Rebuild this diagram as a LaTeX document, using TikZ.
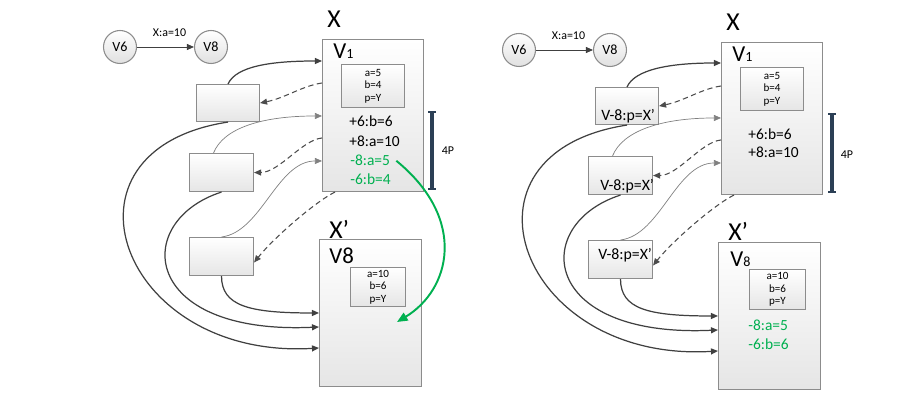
\documentclass[tikz,border=0pt]{standalone}
\usepackage{fontspec}
\setmainfont{Carlito}
\usetikzlibrary{arrows.meta, positioning}

\definecolor{linegray}{HTML}{404040}
\definecolor{opgreen}{HTML}{00B050}
\definecolor{barblue}{HTML}{2B3F55}

\tikzset{
  box/.style={draw=black!45, line width=0.6pt, top color=white, bottom color=black!10,
    inner sep=0pt, anchor=north west},
  state/.style={circle, draw=black!45, line width=0.6pt, top color=white, bottom color=black!12,
    minimum size=0.66cm, inner sep=0pt, font=\fontsize{8}{9}\selectfont},
  vals/.style={box, align=center, font=\fontsize{6.3}{7.2}\selectfont},
  flow/.style={-{Triangle[length=4pt,width=3.4pt]}, draw=linegray, line width=0.7pt},
  thinflow/.style={flow, draw=black!50, line width=0.4pt},
  backflow/.style={flow, draw=black!70, line width=0.6pt, dash pattern=on 3pt off 2pt},
  greenflow/.style={-{Triangle[length=6pt,width=5pt]}, draw=opgreen, line width=1.1pt},
  big/.style={font=\fontsize{14.7}{15}\selectfont, inner sep=0pt, anchor=base west},
  vname/.style={font=\fontsize{13}{13}\selectfont, inner sep=0pt, anchor=base west},
  op/.style={font=\fontsize{8.8}{10}\selectfont, inner sep=0pt, anchor=base west},
  msg/.style={font=\fontsize{9}{10}\selectfont, inner sep=0pt, anchor=base west},
  tag/.style={font=\fontsize{6.8}{8}\selectfont},
  pbar/.style={draw=barblue, line width=2.1pt, {Bar[width=4.2pt,line width=1pt]}-{Bar[width=4.2pt,line width=1pt]}},
}

\begin{document}
\begin{tikzpicture}[x=0.02cm, y=-0.02cm]
\useasboundingbox (0,0) rectangle (900,402);

% left
\begin{scope}
\node[state] (lv6) at (120,47) {V6};
\node[state] (lv8) at (211,47) {V8};
\draw[flow, line width=0.5pt] (lv6) -- node[tag, above=2.5pt, pos=0.57] {X:a=10} (lv8);

\node[big] (lxname) at (327,28) {X};
\node[box, minimum width=2.02cm, minimum height=3.04cm] (lx) at (322,39) {};
\node[vname] (lv1) at (333,59) {V{\fontsize{8}{8}\selectfont 1}};
\node[vals, minimum width=1.26cm, minimum height=0.86cm] (lxv) at (341,64) {a=5\\b=4\\p=Y};
\node[op] (lop1) at (349,127) {+6:b=6};
\node[op] (lop2) at (349,147) {+8:a=10};
\node[op, text=opgreen] (lop3) at (350,166) {-8:a=5};
\node[op, text=opgreen] (lop4) at (350,185) {-6:b=4};
\draw[pbar] (432,111) -- (432,190);
\node[tag] (lp) at (448,151) {4P};

\node[big] (lxpname) at (329,238) {X’};
\node[box, minimum width=2.04cm, minimum height=2.94cm] (lxp) at (319,239) {};
\node[vname] (lv8b) at (329,263) {V8};
\node[vals, minimum width=1.1cm, minimum height=0.78cm] (lxpv) at (350,267) {a=10\\b=6\\p=Y};

\node[box, minimum width=1.26cm, minimum height=0.74cm] (lb1) at (196,84) {};
\node[box, minimum width=1.28cm, minimum height=0.76cm] (lb2) at (189,153) {};
\node[box, minimum width=1.28cm, minimum height=0.76cm] (lb3) at (189,237) {};

\draw[flow] (lb1.north) .. controls +(8,-18) and +(-50,0) .. ([yshift=-0.44cm]lx.north west);
\draw[backflow] ([yshift=-0.88cm]lx.north west) .. controls +(-20,3) and +(25,-5) .. (lb1.east);
\draw[thinflow] ([xshift=-1.6mm]lb2.north) .. controls +(10,-25) and +(-60,0) .. ([yshift=-1.54cm]lx.north west);
\draw[backflow] ([yshift=-1.98cm]lx.north west) .. controls +(-20,2) and +(25,0) .. (lb2.east);
\draw[thinflow] (lb3.north) .. controls +(40,-5) and +(-45,0) .. ([yshift=-2.44cm]lx.north west);
\draw[backflow] ([xshift=0.26cm]lx.south west) .. controls +(-20,10) and +(20,-25) .. ([yshift=-1.2mm]lb3.east);
\draw[flow] (lb1.south) .. controls +(-183,28) and +(-199,12) .. ([yshift=-2.18cm]lxp.north west);
\draw[flow] (lb2.south) .. controls +(-90,29) and +(-179,8) .. ([yshift=-1.76cm]lxp.north west);
\draw[flow] (lb3.south) .. controls +(0,30) and +(-70,0) .. ([yshift=-1.48cm]lxp.north west);

\coordinate (lgreen) at (397,322);
\draw[greenflow] ([xshift=1.2mm]lop3.east) .. controls +(72,59) and +(53,-32) .. (lgreen);
\end{scope}

% right
\begin{scope}[shift={(399,3)}]
\node[state] (rv6) at (120,47) {V6};
\node[state] (rv8) at (211,47) {V8};
\draw[flow, line width=0.5pt] (rv6) -- node[tag, above=2.5pt, pos=0.57] {X:a=10} (rv8);

\node[big] (rxname) at (327,28) {X};
\node[box, minimum width=2.02cm, minimum height=3.04cm] (rx) at (322,39) {};
\node[vname] (rv1) at (333,59) {V{\fontsize{8}{8}\selectfont 1}};
\node[vals, minimum width=1.26cm, minimum height=0.86cm] (rxv) at (341,64) {a=5\\b=4\\p=Y};
\node[op] (rop1) at (349,137) {+6:b=6};
\node[op] (rop2) at (349,155) {+8:a=10};
\draw[pbar] (433,110) -- (433,190);
\node[tag] (rp) at (448,152) {4P};

\node[big] (rxpname) at (329,237) {X’};
\node[box, minimum width=2.04cm, minimum height=2.94cm] (rxp) at (319,239) {};
\node[vname] (rv8b) at (331,263) {V{\fontsize{8}{8}\selectfont 8}};
\node[vals, minimum width=1.12cm, minimum height=0.8cm] (rxpv) at (350,266) {a=10\\b=6\\p=Y};
\node[op, text=opgreen] (rop3) at (349,327) {-8:a=5};
\node[op, text=opgreen] (rop4) at (349,346) {-6:b=6};

\node[box, minimum width=1.26cm, minimum height=0.74cm] (rb1) at (196,84) {};
\node[box, minimum width=1.28cm, minimum height=0.76cm] (rb2) at (189,153) {};
\node[box, minimum width=1.28cm, minimum height=0.76cm] (rb3) at (189,237) {};
\node[msg] (rm1) at (202,117.5) {V-8:p=X’};
\node[msg] (rm2) at (201,187.5) {V-8:p=X’};
\node[msg] (rm3) at (199,256) {V-8:p=X’};

\draw[flow] (rb1.north) .. controls +(8,-18) and +(-50,0) .. ([yshift=-0.42cm]rx.north west);
\draw[backflow] ([yshift=-0.88cm]rx.north west) .. controls +(-20,3) and +(25,-5) .. (rb1.east);
\draw[thinflow] ([xshift=-1.6mm]rb2.north) .. controls +(10,-25) and +(-60,0) .. ([yshift=-1.52cm]rx.north west);
\draw[backflow] ([yshift=-1.96cm]rx.north west) .. controls +(-20,2) and +(25,0) .. (rb2.east);
\draw[thinflow] (rb3.north) .. controls +(40,-5) and +(-45,0) .. ([yshift=-2.42cm]rx.north west);
\draw[backflow] ([xshift=0.26cm]rx.south west) .. controls +(-20,10) and +(20,-25) .. ([yshift=-1.2mm]rb3.east);
\draw[flow] (rb1.south) .. controls +(-183,28) and +(-199,12) .. ([yshift=-2.18cm]rxp.north west);
\draw[flow] (rb2.south) .. controls +(-90,29) and +(-179,8) .. ([yshift=-1.76cm]rxp.north west);
\draw[flow] (rb3.south) .. controls +(0,30) and +(-70,0) .. ([yshift=-1.48cm]rxp.north west);
\end{scope}
\end{tikzpicture}
\end{document}
